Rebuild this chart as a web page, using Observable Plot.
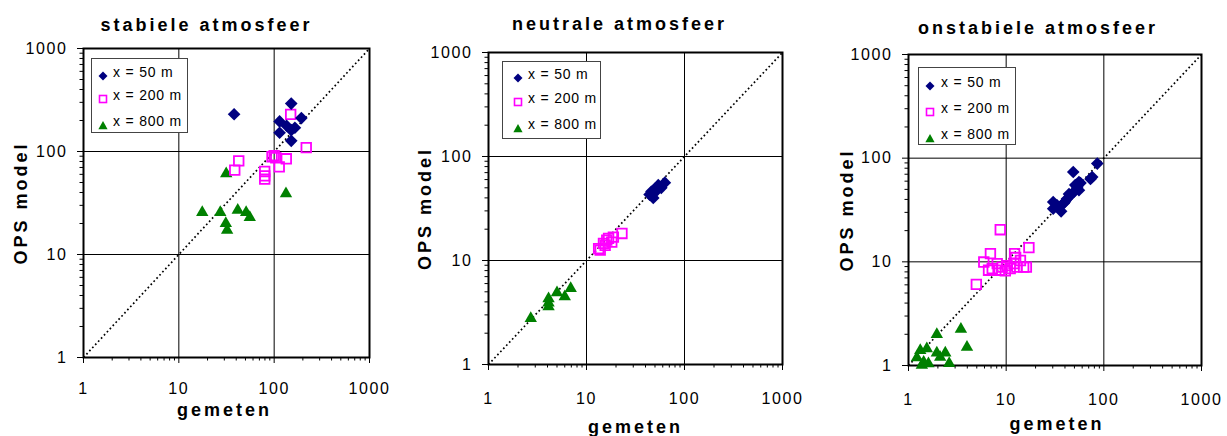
<!DOCTYPE html>
<html><head><meta charset="utf-8">
<script src="https://cdn.jsdelivr.net/npm/d3@7"></script>
<script src="https://cdn.jsdelivr.net/npm/@observablehq/plot@0.6"></script>
<style>
body{margin:0;background:#fff;}
#chart{position:relative;width:1227px;height:436px;overflow:hidden;font-family:"Liberation Sans",Arial,sans-serif;background:#fff;}
.panel{position:absolute;top:0;}
.panel svg{overflow:visible;}
.panel svg text{letter-spacing:1.6px;font-size:16px;}
.panel svg g[aria-label="text"] text{letter-spacing:3px;font-size:18px;font-weight:bold;}
.legend{position:absolute;border:1px solid #444;background:#fff;box-sizing:border-box;}
.legend .sym{position:absolute;width:10px;height:10px;}
.legend .lab{position:absolute;font-size:14px;letter-spacing:0.8px;white-space:nowrap;line-height:14px;color:#000;}
</style></head>
<body><div id="chart"></div>
<script>
// ---- data (gemeten, OPS model) ----
const titles = ["stabiele atmosfeer", "neutrale atmosfeer", "onstabiele atmosfeer"];
const seriesNames = ["x = 50 m", "x = 200 m", "x = 800 m"];
const majorTicks = [1, 10, 100, 1000];
const minorTicks = [2,3,4,5,6,7,8,9,20,30,40,50,60,70,80,90,200,300,400,500,600,700,800,900];
const diagonal = [1, 1000];

const stabiel50 = [[38,230],[114,196],[151,292],[193,211],[114,152],[151,161],[151,127],[165,170],[135,178]];
const stabiel200 = [[149,229],[217,109],[42.5,81],[38.6,66],[79.6,64],[79.6,58],[79.6,54],[95,89],[104,87],[113,71],[134,85],[100,91]];
const stabiel800 = [[31.4,61],[133,39],[17.6,25.6],[27.2,25.6],[41.5,26.9],[50.8,25.6],[55.5,22.9],[31.1,20],[32.1,17.2]];

const neutraal50 = [[44,43],[48,40],[46,46],[50,49],[54,53],[58,50],[63,56],[52,47]];
const neutraal200 = [[13.3,13],[13.8,12.6],[14.9,14.6],[16.1,15.7],[16.8,16.3],[18.1,15],[18.8,16.8],[23,18.2],[15.5,14]];
const neutraal800 = [[2.7,2.77],[4.1,4.3],[4.1,3.9],[4.1,3.6],[5.0,4.9],[6.0,4.5],[6.9,5.4]];

const onstabiel50 = [[85.7,88.6],[76,65.8],[73,63],[48.6,73.6],[55.6,58.9],[57.7,57.6],[53.5,52.6],[55.6,49],[49,47],[45.4,43.6],[42,40.5],[38.9,36.8],[36.5,30.7],[33.2,35],[30.3,37.8],[30.3,32.6],[40,38],[44,45],[51,55]];
const onstabiel200 = [[8.7,20.4],[17.1,13.7],[4.95,6.06],[6.9,12],[5.9,9.95],[12.2,12],[16.1,8.9],[7.2,8.6],[8.1,9.6],[9.1,8.9],[10.2,9.2],[11,8.6],[12.9,8.9],[14,10.3],[15.1,8.9],[12,9.6],[6.6,8.3],[12.5,11],[9.8,8.2],[8.5,8.3]];
const onstabiel800 = [[1.95,1.99],[3.44,2.24],[3.97,1.5],[1.32,1.4],[1.54,1.45],[1.22,1.19],[1.43,1.08],[1.95,1.32],[2.38,1.32],[2.11,1.2],[2.61,1.05],[1.6,1.04],[1.37,1.01]];

const colors = {d50: "#000080", d200: "#FF00FF", d800: "#008000"};

// ---- layout ----
const panels = [
  {data: [stabiel50, stabiel200, stabiel800], left: 0, width: 405, mL: 83, mR: 36, mT: 48, mB: 79,
   xPad: 19, titleDx: -20, titleDy: -23.3, gemDx: -2, gemDy: 53, opsDx: -62,
   leg: {left: 91, top: 58, w: 97, h: 75, rows: [13, 36, 62], symX: 11, textX: 21}},
  {data: [neutraal50, neutraal200, neutraal800], left: 405, width: 410, mL: 83, mR: 33, mT: 52, mB: 72,
   xPad: 22, titleDx: -16, titleDy: -28.5, gemDx: 0, gemDy: 63.2, opsDx: -63,
   leg: {left: 502, top: 61, w: 99, h: 78, rows: [12, 36, 62], symX: 15, textX: 25}},
  {data: [onstabiel50, onstabiel200, onstabiel800], left: 815, width: 412, mL: 93, mR: 26, mT: 54, mB: 71,
   xPad: 22, titleDx: -17, titleDy: -26.1, gemDx: 2, gemDy: 59.2, opsDx: -61,
   leg: {left: 918, top: 67, w: 98, h: 78, rows: [14, 40, 66], symX: 11, textX: 22}}
];

const chart = document.getElementById("chart");

panels.forEach((p, i) => {
  const [s50, s200, s800] = p.data;
  const svg = Plot.plot({
    width: p.width,
    height: 436,
    marginLeft: p.mL, marginRight: p.mR, marginTop: p.mT, marginBottom: p.mB,
    style: {fontFamily: '"Liberation Sans", Arial, sans-serif', fontSize: "16px", color: "#000", background: "transparent", overflow: "visible"},
    x: {type: "log", domain: [1, 1000], label: null},
    y: {type: "log", domain: [1, 1000], label: null},
    marks: [
      Plot.ruleX([10, 100], {stroke: "#000", strokeWidth: 1}),
      Plot.ruleY([10, 100], {stroke: "#000", strokeWidth: 1}),
      Plot.link([diagonal], {x1: d => d[0], y1: d => d[0], x2: d => d[1], y2: d => d[1],
        stroke: "#000", strokeWidth: 1.7, strokeDasharray: "1.7,2.6"}),
      Plot.axisX(majorTicks, {anchor: "bottom", tickSize: 6, tickPadding: p.xPad, tickFormat: d => String(d), label: null}),
      Plot.axisX(minorTicks, {anchor: "bottom", tickSize: 3.5, tickFormat: () => "", label: null}),
      Plot.axisY(majorTicks, {anchor: "left", tickSize: 6, tickPadding: 10, tickFormat: d => String(d), label: null}),
      Plot.axisY(minorTicks, {anchor: "left", tickSize: 3.5, tickFormat: () => "", label: null}),
      Plot.frame({stroke: "#000", strokeWidth: 2}),
      Plot.dot(s800, {x: d => d[0], y: d => d[1], symbol: "triangle", r: 4.6, fill: colors.d800, stroke: "none"}),
      Plot.dot(s200, {x: d => d[0], y: d => d[1], symbol: "square", r: 5.4, fill: "none", stroke: colors.d200, strokeWidth: 1.8}),
      Plot.dot(s50, {x: d => d[0], y: d => d[1], symbol: "diamond2", r: 5.7, fill: colors.d50, stroke: "none"}),
      Plot.text([titles[i]], {frameAnchor: "top", lineAnchor: "middle", textAnchor: "middle", dx: p.titleDx, dy: p.titleDy, text: d => d}),
      Plot.text(["gemeten"], {frameAnchor: "bottom", lineAnchor: "middle", textAnchor: "middle", dx: p.gemDx, dy: p.gemDy, text: d => d}),
      Plot.text(["OPS model"], {frameAnchor: "left", lineAnchor: "middle", textAnchor: "middle", dx: p.opsDx, rotate: -90, text: d => d})
    ]
  });
  const wrap = document.createElement("div");
  wrap.className = "panel";
  wrap.style.left = p.left + "px";
  wrap.appendChild(svg);
  chart.appendChild(wrap);

  // legend
  const L = p.leg;
  const box = document.createElement("div");
  box.className = "legend";
  Object.assign(box.style, {left: L.left + "px", top: L.top + "px", width: L.w + "px", height: L.h + "px"});
  const syms = [
    `<svg width="10" height="10"><path d="M5 0.5L9.5 5L5 9.5L0.5 5Z" fill="${colors.d50}"/></svg>`,
    `<svg width="10" height="10"><rect x="1.5" y="1.5" width="7" height="7" fill="none" stroke="${colors.d200}" stroke-width="1.6"/></svg>`,
    `<svg width="10" height="10"><path d="M5 1L9.6 9.3L0.4 9.3Z" fill="${colors.d800}"/></svg>`
  ];
  seriesNames.forEach((name, k) => {
    const s = document.createElement("div");
    s.className = "sym";
    s.style.left = (L.symX - 5) + "px";
    s.style.top = (L.rows[k] - 5) + "px";
    s.innerHTML = syms[k];
    box.appendChild(s);
    const t = document.createElement("div");
    t.className = "lab";
    t.style.left = L.textX + "px";
    t.style.top = (L.rows[k] - 7) + "px";
    t.textContent = name;
    box.appendChild(t);
  });
  chart.appendChild(box);
});
</script>
</body></html>
